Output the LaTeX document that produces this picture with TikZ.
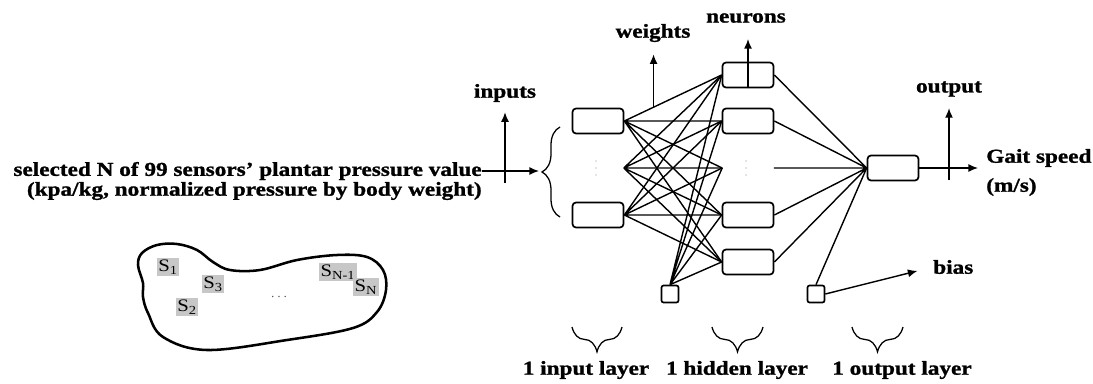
\documentclass[tikz,border=0pt]{standalone}
\usepackage{fontspec}
\setmainfont{Liberation Serif}[FakeStretch=1.18, BoldFeatures={FakeBold=1.2}]
\usetikzlibrary{arrows.meta,calc,decorations.pathreplacing}

\tikzset{
  neuron/.style={draw, line width=1.2pt, rounded corners=2.5pt, minimum width=1.275cm, minimum height=0.625cm, inner sep=0pt},
  hub/.style={minimum width=1.275cm, minimum height=0.625cm, inner sep=0pt},
  biasbox/.style={draw, line width=1.2pt, rounded corners=1.5pt, minimum size=0.425cm, inner sep=0pt},
  lbl/.style={font=\fontsize{14}{15}\selectfont\bfseries, inner sep=0pt},
  sensor/.style={fill=black!22, inner sep=1.2pt, font=\fontsize{12.5}{12.5}\selectfont},
  wire/.style={line width=1pt},
  pointer/.style={line width=1pt, -{Latex[length=2.4mm,width=2mm]}},
  curly/.style={line width=0.9pt, decorate, decoration={brace, amplitude=#1}},
  dot/.style={fill=black!45}
}

\begin{document}
\begin{tikzpicture}[x=0.025cm, y=-0.025cm]
    \useasboundingbox (0,0) rectangle (1093,383);

    % Neurons
    \node[neuron] (in1) at (598,121) {};
    \node[hub]    (in2) at (598,168) {};
    \node[neuron] (in3) at (598,215) {};
    \node[biasbox] (b1) at (670,294) {};

    \node[neuron] (h1) at (748,75) {};
    \node[neuron] (h2) at (748,121) {};
    \node[hub]    (h3) at (748,168) {};
    \node[neuron] (h4) at (748,215) {};
    \node[neuron] (h5) at (748,262) {};
    \node[biasbox] (b2) at (816,294) {};

    \node[neuron] (out) at (893,168) {};

    % vertical dots between the neurons
    \fill[dot] (in2) +(-2,-7) circle (0.5pt) +(-2,0) circle (0.5pt) +(-2,7) circle (0.5pt);
    \fill[dot] (h3) +(-2,-7) circle (0.5pt) +(-2,0) circle (0.5pt) +(-2,7) circle (0.5pt);

    % Weights
    \draw[wire] (in1.east) -- (h1.west) (in1.east) -- (h2.west) (in1.east) -- (h3.west)
                (in1.east) -- (h4.west) (in1.east) -- (h5.west);
    \draw[wire] (in2.east) -- (h1.west) (in2.east) -- (h2.west) (in2.east) -- (h3.west)
                (in2.east) -- (h4.west) (in2.east) -- (h5.west);
    \draw[wire] (in3.east) -- (h1.west) (in3.east) -- (h2.west) (in3.east) -- (h3.west)
                (in3.east) -- (h4.west) (in3.east) -- (h5.west);
    \draw[wire] (b1.north) -- (h1.west) (b1.north) -- (h2.west) (b1.north) -- (h3.west)
                (b1.north) -- (h4.west) (b1.north) -- (h5.west);
    \draw[wire] (h1.east) -- (out.west) (h2.east) -- (out.west) (h3.east) -- (out.west)
                (h4.east) -- (out.west) (h5.east) -- (out.west) (b2.north) -- (out.west);

    % Input text and brace
    \node[lbl, anchor=east] (sel1) at (482,171) {selected N of 99 sensors' plantar pressure value};
    \node[lbl, anchor=east] (sel2) at (482,191) {(kpa/kg, normalized pressure by body weight)};
    \coordinate (brtop) at (560,127);
    \coordinate (brbot) at (560,217);
    \coordinate (brtip) at (539,172);
    \draw[curly=0.45cm] (brbot) -- (brtop);
    \draw[pointer] (sel1.east) -- (sel1.east -| brtip);

    % Labels with arrows
    \node[lbl] (inputs) at (505,93) {inputs};
    \coordinate (inroot) at (505,183);
    \draw[pointer, shorten >=0.25cm] (inroot) -- (inroot |- inputs.south);

    \node[lbl] (weights) at (653,33) {weights};
    \coordinate (wroot) at ($(in1.east)!0.3!(h1.west)$);
    \draw[pointer, shorten >=0.3cm] (wroot) -- (wroot |- weights.south);

    \node[lbl] (neurons) at (746,18) {neurons};
    \draw[pointer, shorten >=0.4cm] (h1.south) -- (h1.south |- neurons.south);

    \node[lbl] (output) at (949,89) {output};
    \coordinate (oroot) at (949,180);
    \draw[pointer, shorten >=0.28cm] (oroot) -- (oroot |- output.south);

    \coordinate (gend) at (978,168);
    \draw[pointer] (out.east) -- (gend);
    \node[lbl, anchor=west] (gait) at (986,158) {Gait speed};
    \node[lbl, anchor=west] (unit) at (986,187) {(m/s)};

    \node[lbl, anchor=west] (bias) at (933,267) {bias};
    \draw[pointer, shorten >=0.4cm] (b2.east) -- (bias.west);

    % Layers
    \draw[curly=0.62cm] (622,327) -- (572,327);
    \draw[curly=0.62cm] (763,327) -- (712,327);
    \draw[curly=0.62cm] (903,327) -- (852,327);
    \node[lbl] (inlayer) at (586,370) {1 input layer};
    \node[lbl] (hidlayer) at (737,370) {1 hidden layer};
    \node[lbl] (outlayer) at (902,370) {1 output layer};

    % Foot with sensors
    \draw[line width=1.8pt] plot[smooth cycle, tension=0.6] coordinates {
        (142,253) (157,245) (177,244) (197,250) (213,262) (230,270) (260,270)
        (297,260) (337,255) (367,257) (383,270) (386,290) (377,312) (353,328)
        (287,340) (207,350) (163,337) (148,313) (143,297) (143,283) (138,265)};
    \node[sensor] (s1) at (168,267) {S\textsubscript{1}};
    \node[sensor] (s2) at (187,307) {S\textsubscript{2}};
    \node[sensor] (s3) at (213,284) {S\textsubscript{3}};
    \node[sensor] (sn1) at (338,272) {S\textsubscript{N-1}};
    \node[sensor] (sn) at (366,287) {S\textsubscript{N}};
    \node[text=black!70] (sdots) at (279,297) {$\cdots$};
\end{tikzpicture}
\end{document}
